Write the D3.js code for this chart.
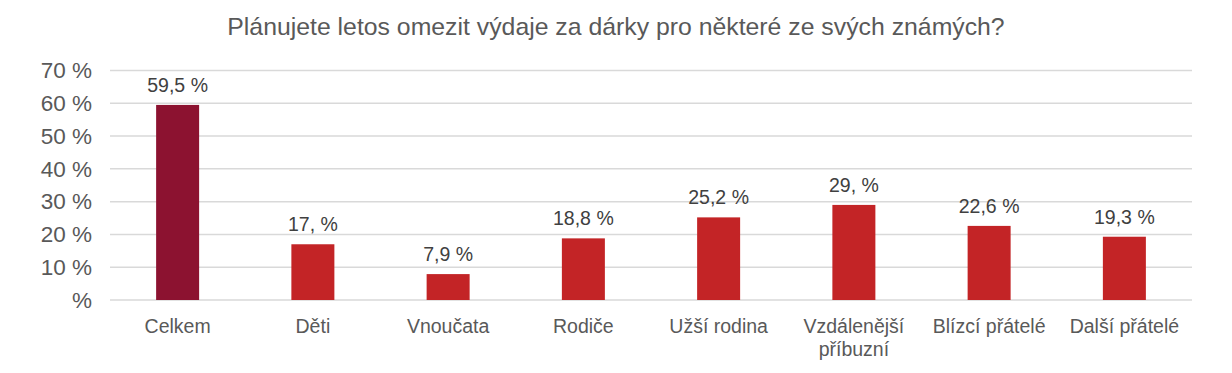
<!DOCTYPE html>
<html>
<head>
<meta charset="utf-8">
<script src="https://cdn.jsdelivr.net/npm/d3@7"></script>
<style>
  body { margin: 0; background: #fff; }
  text { font-family: "Liberation Sans", Arial, sans-serif; }
</style>
</head>
<body>
<div id="chart"></div>
<script>
// data
var categories = ["Celkem", "Děti", "Vnoučata", "Rodiče", "Užší rodina", "Vzdálenější příbuzní", "Blízcí přátelé", "Další přátelé"];
var values = [59.5, 17.0, 7.9, 18.8, 25.2, 29.0, 22.6, 19.3];
var valueLabels = ["59,5 %", "17, %", "7,9 %", "18,8 %", "25,2 %", "29, %", "22,6 %", "19,3 %"];
var yTicks = [0, 10, 20, 30, 40, 50, 60, 70];
var yTickLabels = ["%", "10 %", "20 %", "30 %", "40 %", "50 %", "60 %", "70 %"];
var title = "Plánujete letos omezit výdaje za dárky pro některé ze svých známých?";

var W = 1232, H = 373;
var margin = {top: 70.5, right: 40, bottom: 73, left: 110};
var width = W - margin.left - margin.right,
    height = H - margin.top - margin.bottom;

var svg = d3.select("#chart").append("svg")
    .attr("width", W)
    .attr("height", H);

svg.append("text")
    .attr("x", 616)
    .attr("y", 35)
    .attr("text-anchor", "middle")
    .style("font-size", "24.8px")
    .style("fill", "#595959")
    .text(title);

var g = svg.append("g")
    .attr("transform", "translate(" + margin.left + "," + margin.top + ")");

var xScale = d3.scaleBand().domain(categories).range([0, width]).padding(0);
var yScale = d3.scaleLinear().domain([0, 70]).range([height, 0]);

// gridlines
g.selectAll(".grid")
    .data(yTicks)
  .enter().append("line")
    .attr("x1", 0)
    .attr("x2", width)
    .attr("y1", function(d) { return yScale(d); })
    .attr("y2", function(d) { return yScale(d); })
    .style("stroke", "#d9d9d9")
    .style("stroke-width", 1.5);

// y axis
var yAxis = d3.axisLeft(yScale).tickValues(yTicks)
    .tickSize(0).tickPadding(18)
    .tickFormat(function(d, i) { return yTickLabels[i]; });
var ya = g.append("g").call(yAxis);
ya.select(".domain").remove();
ya.selectAll("text")
    .style("font-size", "22.5px")
    .style("fill", "#595959")
    .style("font-family", "'Liberation Sans', Arial, sans-serif");

// bars
var barW = 43;
g.selectAll(".bar")
    .data(values)
  .enter().append("rect")
    .attr("class", "bar")
    .attr("x", function(d, i) { return xScale(categories[i]) + xScale.bandwidth() / 2 - barW / 2; })
    .attr("width", barW)
    .attr("y", function(d) { return yScale(d); })
    .attr("height", function(d) { return height - yScale(d); })
    .style("fill", function(d, i) { return i == 0 ? "#8c1230" : "#c32426"; });

// value labels
g.selectAll(".val")
    .data(values)
  .enter().append("text")
    .attr("x", function(d, i) { return xScale(categories[i]) + xScale.bandwidth() / 2; })
    .attr("y", function(d) { return yScale(d) - 13; })
    .attr("text-anchor", "middle")
    .style("font-size", "19.5px")
    .style("fill", "#404040")
    .text(function(d, i) { return valueLabels[i]; });

// category labels (wrap long ones)
var catG = g.selectAll(".cat")
    .data(categories)
  .enter().append("text")
    .attr("text-anchor", "middle")
    .style("font-size", "19.5px")
    .style("fill", "#595959");
catG.each(function(d) {
  var t = d3.select(this);
  var cx = xScale(d) + xScale.bandwidth() / 2;
  var lines = d == "Vzdálenější příbuzní" ? ["Vzdálenější", "příbuzní"] : [d];
  lines.forEach(function(l, j) {
    t.append("tspan").attr("x", cx).attr("y", height + 33 + j * 23).text(l);
  });
});
</script>
</body>
</html>
